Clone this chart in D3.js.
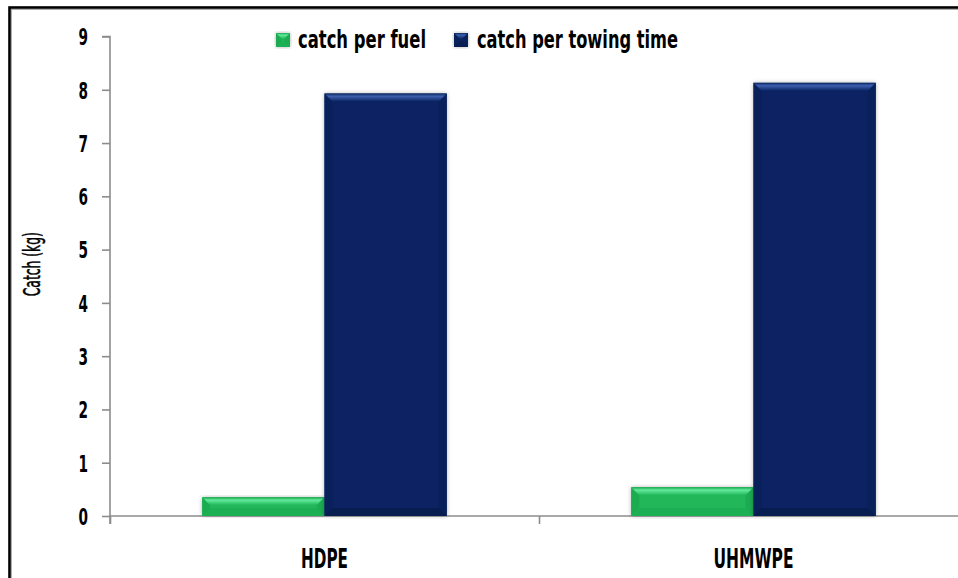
<!DOCTYPE html>
<html>
<head>
<meta charset="utf-8">
<script src="https://cdn.jsdelivr.net/npm/d3@7/dist/d3.min.js"></script>
<style>
  html, body { margin: 0; padding: 0; background: #fff; }
  svg { display: block; }
  text { font-family: "DejaVu Sans", "Roboto", sans-serif; font-stretch: condensed; fill: #000; }
</style>
</head>
<body>
<svg id="chart" width="958" height="578"></svg>
<script>
// Catch comparison between the two netting materials
const categories = ["HDPE", "UHMWPE"];
const seriesNames = ["catch per fuel", "catch per towing time"];
const catchPerFuel = [0.35, 0.54];
const catchPerTowingTime = [7.93, 8.13];
const yTicks = [0, 1, 2, 3, 4, 5, 6, 7, 8, 9];

const palette = {
  "catch per fuel": { face: "#20b758", top: "#64ea9d", side: "#1bab51", bottom: "#1caf53", edge: "#17a64d" },
  "catch per towing time": { face: "#0a2462", top: "#3d5fae", side: "#09215b", bottom: "#071c50", edge: "#0c2660" }
};

const svg = d3.select("#chart");
const plot = { left: 110, right: 968, top: 36.5, bottom: 516 };

const defs = svg.append("defs");
const shadow = defs.append("filter").attr("id", "barShadow")
  .attr("x", "-10%").attr("y", "-10%").attr("width", "120%").attr("height", "120%");
shadow.append("feDropShadow").attr("dx", 0).attr("dy", 0).attr("stdDeviation", 2.2)
  .attr("flood-color", "#000").attr("flood-opacity", 0.3);

const topGrad = {};
seriesNames.forEach((s, i) => {
  const g = defs.append("linearGradient").attr("id", "topGrad" + i)
    .attr("x1", 0).attr("y1", 0).attr("x2", 0).attr("y2", 1);
  g.append("stop").attr("offset", "0%").attr("stop-color", palette[s].edge);
  g.append("stop").attr("offset", "35%").attr("stop-color", palette[s].top);
  g.append("stop").attr("offset", "100%").attr("stop-color", palette[s].face);
  topGrad[s] = "url(#topGrad" + i + ")";
});

// fit a text run to a given width (condensed display face); runs are start-anchored
function fit(sel, width) {
  sel.attr("text-anchor", "start").attr("textLength", width).attr("lengthAdjust", "spacingAndGlyphs");
  return sel;
}

// outer frame
svg.append("rect").attr("x", 9.5).attr("y", 7.5).attr("width", 1200).attr("height", 1200)
  .attr("fill", "none").attr("stroke", "#000").attr("stroke-width", 2.6);
svg.append("rect").attr("x", 11.5).attr("y", 9.5).attr("width", 1200).attr("height", 1200)
  .attr("fill", "none").attr("stroke", "#9a9a9a").attr("stroke-width", 0.8);

const y = d3.scaleLinear().domain([0, 9]).range([plot.bottom, plot.top]);
const x0 = d3.scaleBand().domain(categories).range([plot.left, plot.right])
  .paddingInner(0.43).paddingOuter(0.215);
const x1 = d3.scaleBand().domain(seriesNames).range([0, x0.bandwidth()]);
const xEdges = d3.scaleLinear().domain([0, categories.length]).range([plot.left, plot.right]);

// y axis
const yAxis = svg.append("g").attr("transform", `translate(${plot.left},0)`)
  .call(d3.axisLeft(y).tickValues(yTicks).tickSize(8).tickPadding(14).tickFormat(d3.format("d")));
yAxis.select(".domain").attr("stroke", "#8c8c8c").attr("stroke-width", 1.6)
  .attr("d", `M-8,${plot.top}H0V${plot.bottom + 8}`);
yAxis.selectAll(".tick line").attr("stroke", "#8c8c8c").attr("stroke-width", 1.6);
yAxis.selectAll(".tick text")
  .style("font-family", "'DejaVu Sans', sans-serif").style("font-stretch", "condensed")
  .style("font-size", "23px").style("font-weight", "bold")
  .attr("dy", "0.36em")
  .each(function () {
    const w = 9.5 * this.textContent.length;
    fit(d3.select(this), w).attr("x", -22 - w);
  });

// x axis
const xAxis = svg.append("g").attr("transform", `translate(0,${plot.bottom})`)
  .call(d3.axisBottom(xEdges).tickValues(d3.range(categories.length + 1)).tickSize(8).tickFormat(""));
xAxis.select(".domain").attr("stroke", "#8c8c8c").attr("stroke-width", 1.6)
  .attr("d", `M${plot.left},0H${plot.right}`);
xAxis.selectAll(".tick line").attr("stroke", "#8c8c8c").attr("stroke-width", 1.6);

const catWidths = { "HDPE": 47, "UHMWPE": 80 };
svg.append("g").selectAll("text").data(categories).join("text")
  .attr("x", d => x0(d) + x0.bandwidth() / 2 - catWidths[d] / 2)
  .attr("y", 568)
  .style("font-size", "26px").style("font-weight", "bold")
  .text(d => d)
  .each(function (d) { fit(d3.select(this), catWidths[d]); });

// y axis title
const titleLen = 64;
fit(svg.append("text")
  .attr("transform", `translate(40,${(plot.top + plot.bottom) / 2 - 12 + titleLen / 2}) rotate(-90)`)
  .style("font-size", "23px")
  .attr("stroke", "#000").attr("stroke-width", 0.5)
  .text("Catch (kg)"), titleLen);

// bevelled block: face plus four sloped edges
function bevel(g, x, yTop, w, h, s, maxB) {
  const b = Math.min(maxB, h / 2.4, w / 2);
  const p = palette[s];
  const pts = arr => arr.map(q => q.join(",")).join(" ");
  g.append("rect").attr("x", x).attr("y", yTop).attr("width", w).attr("height", h)
    .attr("fill", p.face).attr("filter", "url(#barShadow)");
  g.append("polygon").attr("points", pts([[x, yTop], [x + b, yTop + b], [x + b, yTop + h - b], [x, yTop + h]]))
    .attr("fill", p.side);
  g.append("polygon").attr("points", pts([[x + w, yTop], [x + w - b, yTop + b], [x + w - b, yTop + h - b], [x + w, yTop + h]]))
    .attr("fill", p.side);
  g.append("polygon").attr("points", pts([[x, yTop + h], [x + b, yTop + h - b], [x + w - b, yTop + h - b], [x + w, yTop + h]]))
    .attr("fill", p.bottom);
  g.append("polygon").attr("points", pts([[x, yTop], [x + w, yTop], [x + w - b, yTop + b], [x + b, yTop + b]]))
    .attr("fill", topGrad[s]);
}

const rows = categories.map((c, i) => ({
  cat: c,
  vals: [
    { s: seriesNames[0], v: catchPerFuel[i] },
    { s: seriesNames[1], v: catchPerTowingTime[i] }
  ]
}));

const bars = svg.append("g");
rows.forEach(r => {
  r.vals.forEach(d => {
    const bx = x0(r.cat) + x1(d.s);
    bevel(bars.append("g"), bx, y(d.v), x1.bandwidth(), y(0) - y(d.v), d.s, 8);
  });
});

// legend
const legend = svg.append("g");
const legendItems = [
  { s: seriesNames[0], mx: 276, tx: 298, w: 128 },
  { s: seriesNames[1], mx: 454, tx: 477, w: 201 }
];
legendItems.forEach(it => {
  bevel(legend.append("g"), it.mx, 33, 14, 14, it.s, 7);
  fit(legend.append("text").attr("x", it.tx).attr("y", 48)
    .style("font-size", "24px").style("font-weight", "bold")
    .text(it.s), it.w);
});
</script>
</body>
</html>
